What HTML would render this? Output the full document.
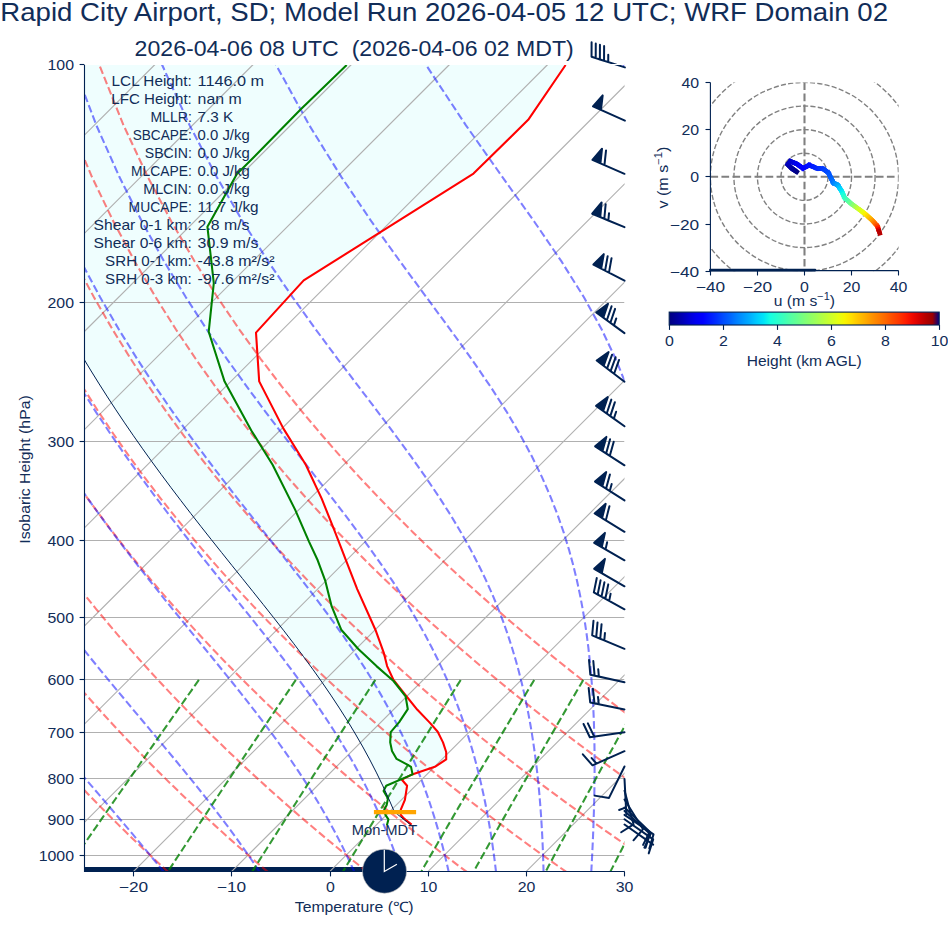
<!DOCTYPE html>
<html><head><meta charset="utf-8"><style>html,body{margin:0;padding:0;background:#fff;overflow:hidden;width:948px;height:936px;}svg{display:block;}</style></head><body>
<svg width="948" height="936" viewBox="0 0 948 936" font-family="&quot;Liberation Sans&quot;, sans-serif">
<rect width="948" height="936" fill="#ffffff"/>
<defs><clipPath id="ax"><rect x="84.5" y="64.5" width="540.0" height="807.6"/></clipPath></defs>
<g clip-path="url(#ax)">
<polygon points="54.50,59.50 54.50,319.14 61.09,319.14 68.27,332.10 75.68,345.07 83.29,358.03 91.13,371.00 99.18,383.96 107.44,396.93 115.92,409.89 124.61,422.86 133.50,435.82 142.61,448.79 151.91,461.75 161.40,474.71 171.07,487.68 180.91,500.64 190.90,513.61 201.02,526.57 211.26,539.54 221.58,552.50 231.96,565.47 242.37,578.43 252.77,591.40 263.12,604.36 273.38,617.33 283.51,630.29 293.47,643.26 303.22,656.22 312.72,669.18 321.93,682.15 330.83,695.11 339.39,708.08 347.60,721.04 355.42,734.01 362.86,746.97 369.91,759.94 376.57,772.90 382.85,785.87 388.75,798.83 394.34,811.80 397.66,814.48 400.96,817.14 404.25,819.78 407.53,822.40 410.80,825.00 411.60,824.60 404.10,818.60 400.80,814.90 400.80,809.60 404.90,799.90 407.10,785.70 401.90,779.70 412.10,774.40 435.60,766.40 446.20,759.40 446.20,752.00 443.00,742.40 437.70,731.70 430.20,723.10 417.40,709.80 401.40,690.00 393.50,680.00 387.10,666.10 383.90,653.20 375.40,629.70 357.20,589.10 345.50,559.20 334.60,530.90 321.80,498.90 305.80,464.70 283.30,428.40 259.20,381.40 256.00,332.60 303.70,280.40 473.50,173.60 528.20,119.80 565.60,65.00 565.60,59.50" fill="#effefe"/>
<rect x="84.0" y="867" width="300.0" height="4.8" fill="#002151"/>
<line x1="84.5" y1="64.50" x2="624.5" y2="64.50" stroke="#b0b0b0" stroke-width="1.0"/>
<line x1="84.5" y1="302.50" x2="624.5" y2="302.50" stroke="#b0b0b0" stroke-width="1.0"/>
<line x1="84.5" y1="441.50" x2="624.5" y2="441.50" stroke="#b0b0b0" stroke-width="1.0"/>
<line x1="84.5" y1="540.50" x2="624.5" y2="540.50" stroke="#b0b0b0" stroke-width="1.0"/>
<line x1="84.5" y1="617.50" x2="624.5" y2="617.50" stroke="#b0b0b0" stroke-width="1.0"/>
<line x1="84.5" y1="679.50" x2="624.5" y2="679.50" stroke="#b0b0b0" stroke-width="1.0"/>
<line x1="84.5" y1="732.50" x2="624.5" y2="732.50" stroke="#b0b0b0" stroke-width="1.0"/>
<line x1="84.5" y1="778.50" x2="624.5" y2="778.50" stroke="#b0b0b0" stroke-width="1.0"/>
<line x1="84.5" y1="819.50" x2="624.5" y2="819.50" stroke="#b0b0b0" stroke-width="1.0"/>
<line x1="84.5" y1="855.50" x2="624.5" y2="855.50" stroke="#b0b0b0" stroke-width="1.0"/>
<line x1="-1143.50" y1="872.10" x2="-335.90" y2="64.50" stroke="#b0b0b0" stroke-width="1.11"/>
<line x1="-1045.32" y1="872.10" x2="-237.72" y2="64.50" stroke="#b0b0b0" stroke-width="1.11"/>
<line x1="-947.14" y1="872.10" x2="-139.54" y2="64.50" stroke="#b0b0b0" stroke-width="1.11"/>
<line x1="-848.96" y1="872.10" x2="-41.36" y2="64.50" stroke="#b0b0b0" stroke-width="1.11"/>
<line x1="-750.78" y1="872.10" x2="56.82" y2="64.50" stroke="#b0b0b0" stroke-width="1.11"/>
<line x1="-652.60" y1="872.10" x2="155.00" y2="64.50" stroke="#b0b0b0" stroke-width="1.11"/>
<line x1="-554.42" y1="872.10" x2="253.18" y2="64.50" stroke="#b0b0b0" stroke-width="1.11"/>
<line x1="-456.24" y1="872.10" x2="351.36" y2="64.50" stroke="#b0b0b0" stroke-width="1.11"/>
<line x1="-358.06" y1="872.10" x2="449.54" y2="64.50" stroke="#b0b0b0" stroke-width="1.11"/>
<line x1="-259.88" y1="872.10" x2="547.72" y2="64.50" stroke="#b0b0b0" stroke-width="1.11"/>
<line x1="-161.70" y1="872.10" x2="645.90" y2="64.50" stroke="#b0b0b0" stroke-width="1.11"/>
<line x1="-63.52" y1="872.10" x2="744.08" y2="64.50" stroke="#b0b0b0" stroke-width="1.11"/>
<line x1="34.66" y1="872.10" x2="842.26" y2="64.50" stroke="#b0b0b0" stroke-width="1.11"/>
<line x1="132.84" y1="872.10" x2="940.44" y2="64.50" stroke="#b0b0b0" stroke-width="1.11"/>
<line x1="231.02" y1="872.10" x2="1038.62" y2="64.50" stroke="#b0b0b0" stroke-width="1.11"/>
<line x1="329.20" y1="872.10" x2="1136.80" y2="64.50" stroke="#b0b0b0" stroke-width="1.11"/>
<line x1="427.38" y1="872.10" x2="1234.98" y2="64.50" stroke="#b0b0b0" stroke-width="1.11"/>
<line x1="525.56" y1="872.10" x2="1333.16" y2="64.50" stroke="#b0b0b0" stroke-width="1.11"/>
<line x1="623.74" y1="872.10" x2="1431.34" y2="64.50" stroke="#b0b0b0" stroke-width="1.11"/>
<polyline points="-30.65,872.16 -36.57,865.76 -42.54,859.23 -48.56,852.58 -54.62,845.80 -60.73,838.89 -66.89,831.83 -73.10,824.62 -79.36,817.26 -85.67,809.73 -92.04,802.04 -98.45,794.17 -104.92,786.12 -111.45,777.88 -118.03,769.43 -124.67,760.77 -131.36,751.88 -138.11,742.76 -144.93,733.39 -151.80,723.76 -158.73,713.84 -165.73,703.64 -172.79,693.12 -179.91,682.27 -187.09,671.06 -194.33,659.48 -201.64,647.49 -209.01,635.07 -216.45,622.19 -223.94,608.80 -231.49,594.87 -239.10,580.35 -246.76,565.18 -254.46,549.32 -262.21,532.69 -269.99,515.21 -277.80,496.80 -285.61,477.34 -293.42,456.72 -301.19,434.77 -308.90,411.33 -316.51,386.17 -323.96,359.02 -331.17,329.54 -338.05,297.29 -344.43,261.69 -350.11,221.97 -354.76,177.06 -357.86,125.37 -358.57,64.50" fill="none" stroke="#ff0000" stroke-opacity="0.5" stroke-width="2.08" stroke-dasharray="7.7 3.33"/>
<polyline points="68.91,872.16 62.46,865.76 55.95,859.23 49.39,852.58 42.78,845.80 36.11,838.89 29.38,831.83 22.59,824.62 15.75,817.26 8.85,809.73 1.88,802.04 -5.15,794.17 -12.24,786.12 -19.40,777.88 -26.63,769.43 -33.92,760.77 -41.28,751.88 -48.72,742.76 -56.22,733.39 -63.80,723.76 -71.46,713.84 -79.19,703.64 -87.00,693.12 -94.89,682.27 -102.87,671.06 -110.92,659.48 -119.06,647.49 -127.27,635.07 -135.58,622.19 -143.97,608.80 -152.44,594.87 -161.00,580.35 -169.63,565.18 -178.35,549.32 -187.15,532.69 -196.01,515.21 -204.94,496.80 -213.93,477.34 -222.95,456.72 -232.00,434.77 -241.05,411.33 -250.06,386.17 -258.99,359.02 -267.78,329.54 -276.33,297.29 -284.52,261.69 -292.14,221.97 -298.92,177.06 -304.37,125.37 -307.72,64.50" fill="none" stroke="#ff0000" stroke-opacity="0.5" stroke-width="2.08" stroke-dasharray="7.7 3.33"/>
<polyline points="168.47,872.16 161.49,865.76 154.45,859.23 147.34,852.58 140.18,845.80 132.95,838.89 125.65,831.83 118.29,824.62 110.86,817.26 103.37,809.73 95.80,802.04 88.16,794.17 80.44,786.12 72.65,777.88 64.78,769.43 56.83,760.77 48.80,751.88 40.68,742.76 32.48,733.39 24.19,723.76 15.81,713.84 7.34,703.64 -1.22,693.12 -9.88,682.27 -18.64,671.06 -27.50,659.48 -36.47,647.49 -45.54,635.07 -54.71,622.19 -63.99,608.80 -73.39,594.87 -82.89,580.35 -92.51,565.18 -102.24,549.32 -112.08,532.69 -122.03,515.21 -132.08,496.80 -142.24,477.34 -152.48,456.72 -162.80,434.77 -173.19,411.33 -183.61,386.17 -194.02,359.02 -204.38,329.54 -214.61,297.29 -224.60,261.69 -234.17,221.97 -243.07,177.06 -250.88,125.37 -256.87,64.50" fill="none" stroke="#ff0000" stroke-opacity="0.5" stroke-width="2.08" stroke-dasharray="7.7 3.33"/>
<polyline points="268.03,872.16 260.52,865.76 252.94,859.23 245.29,852.58 237.58,845.80 229.79,838.89 221.93,831.83 213.99,824.62 205.98,817.26 197.89,809.73 189.72,802.04 181.46,794.17 173.12,786.12 164.70,777.88 156.18,769.43 147.58,760.77 138.88,751.88 130.08,742.76 121.19,733.39 112.19,723.76 103.09,713.84 93.88,703.64 84.56,693.12 75.13,682.27 65.58,671.06 55.91,659.48 46.12,647.49 36.20,635.07 26.16,622.19 15.98,608.80 5.66,594.87 -4.79,580.35 -15.39,565.18 -26.13,549.32 -37.01,532.69 -48.05,515.21 -59.22,496.80 -70.55,477.34 -82.01,456.72 -93.61,434.77 -105.33,411.33 -117.15,386.17 -129.05,359.02 -140.99,329.54 -152.90,297.29 -164.68,261.69 -176.20,221.97 -187.23,177.06 -197.38,125.37 -206.01,64.50" fill="none" stroke="#ff0000" stroke-opacity="0.5" stroke-width="2.08" stroke-dasharray="7.7 3.33"/>
<polyline points="367.59,872.16 359.55,865.76 351.43,859.23 343.24,852.58 334.97,845.80 326.63,838.89 318.20,831.83 309.69,824.62 301.09,817.26 292.41,809.73 283.63,802.04 274.77,794.17 265.81,786.12 256.75,777.88 247.59,769.43 238.32,760.77 228.96,751.88 219.48,742.76 209.89,733.39 200.19,723.76 190.36,713.84 180.42,703.64 170.34,693.12 160.14,682.27 149.80,671.06 139.33,659.48 128.71,647.49 117.94,635.07 107.02,622.19 95.95,608.80 84.71,594.87 73.31,580.35 61.73,565.18 49.98,549.32 38.05,532.69 25.94,515.21 13.63,496.80 1.14,477.34 -11.54,456.72 -24.42,434.77 -37.47,411.33 -50.70,386.17 -64.08,359.02 -77.59,329.54 -91.18,297.29 -104.77,261.69 -118.24,221.97 -131.39,177.06 -143.89,125.37 -155.16,64.50" fill="none" stroke="#ff0000" stroke-opacity="0.5" stroke-width="2.08" stroke-dasharray="7.7 3.33"/>
<polyline points="467.15,872.16 458.58,865.76 449.93,859.23 441.19,852.58 432.37,845.80 423.47,838.89 414.47,831.83 405.39,824.62 396.21,817.26 386.93,809.73 377.55,802.04 368.07,794.17 358.49,786.12 348.79,777.88 338.99,769.43 329.07,760.77 319.04,751.88 308.88,742.76 298.60,733.39 288.18,723.76 277.64,713.84 266.95,703.64 256.13,693.12 245.15,682.27 234.03,671.06 222.74,659.48 211.30,647.49 199.68,635.07 187.89,622.19 175.92,608.80 163.76,594.87 151.41,580.35 138.86,565.18 126.10,549.32 113.12,532.69 99.92,515.21 86.49,496.80 72.83,477.34 58.93,456.72 44.78,434.77 30.39,411.33 15.75,386.17 0.88,359.02 -14.20,329.54 -29.46,297.29 -44.85,261.69 -60.27,221.97 -75.54,177.06 -90.40,125.37 -104.31,64.50" fill="none" stroke="#ff0000" stroke-opacity="0.5" stroke-width="2.08" stroke-dasharray="7.7 3.33"/>
<polyline points="566.70,872.16 557.61,865.76 548.42,859.23 539.14,852.58 529.77,845.80 520.31,838.89 510.75,831.83 501.09,824.62 491.32,817.26 481.45,809.73 471.47,802.04 461.38,794.17 451.17,786.12 440.84,777.88 430.40,769.43 419.82,760.77 409.12,751.88 398.28,742.76 387.30,733.39 376.18,723.76 364.91,713.84 353.49,703.64 341.91,693.12 330.16,682.27 318.25,671.06 306.16,659.48 293.88,647.49 281.42,635.07 268.76,622.19 255.89,608.80 242.81,594.87 229.51,580.35 215.98,565.18 202.21,549.32 188.18,532.69 173.90,515.21 159.35,496.80 144.52,477.34 129.39,456.72 113.97,434.77 98.24,411.33 82.20,386.17 65.85,359.02 49.20,329.54 32.25,297.29 15.07,261.69 -2.30,221.97 -19.70,177.06 -36.91,125.37 -53.46,64.50" fill="none" stroke="#ff0000" stroke-opacity="0.5" stroke-width="2.08" stroke-dasharray="7.7 3.33"/>
<polyline points="666.26,872.16 656.64,865.76 646.91,859.23 637.09,852.58 627.17,845.80 617.15,838.89 607.02,831.83 596.78,824.62 586.43,817.26 575.97,809.73 565.39,802.04 554.68,794.17 543.85,786.12 532.89,777.88 521.80,769.43 510.57,760.77 499.20,751.88 487.68,742.76 476.00,733.39 464.18,723.76 452.18,713.84 440.03,703.64 427.69,693.12 415.18,682.27 402.47,671.06 389.57,659.48 376.47,647.49 363.16,635.07 349.63,622.19 335.86,608.80 321.86,594.87 307.61,580.35 293.10,565.18 278.32,549.32 263.25,532.69 247.88,515.21 232.21,496.80 216.21,477.34 199.86,456.72 183.17,434.77 166.10,411.33 148.66,386.17 130.82,359.02 112.59,329.54 93.97,297.29 74.98,261.69 55.67,221.97 36.14,177.06 16.59,125.37 -2.61,64.50" fill="none" stroke="#ff0000" stroke-opacity="0.5" stroke-width="2.08" stroke-dasharray="7.7 3.33"/>
<polyline points="765.82,872.16 755.66,865.76 745.41,859.23 735.04,852.58 724.57,845.80 713.99,838.89 703.29,831.83 692.48,824.62 681.55,817.26 670.49,809.73 659.30,802.04 647.99,794.17 636.53,786.12 624.94,777.88 613.20,769.43 601.32,760.77 589.28,751.88 577.07,742.76 564.71,733.39 552.17,723.76 539.46,713.84 526.56,703.64 513.47,693.12 500.19,682.27 486.70,671.06 472.99,659.48 459.06,647.49 444.90,635.07 430.49,622.19 415.84,608.80 400.91,594.87 385.71,580.35 370.22,565.18 354.43,549.32 338.32,532.69 321.87,515.21 305.07,496.80 287.89,477.34 270.33,456.72 252.36,434.77 233.96,411.33 215.11,386.17 195.79,359.02 175.99,329.54 155.69,297.29 134.90,261.69 113.64,221.97 91.98,177.06 70.08,125.37 48.25,64.50" fill="none" stroke="#ff0000" stroke-opacity="0.5" stroke-width="2.08" stroke-dasharray="7.7 3.33"/>
<polyline points="865.38,872.16 854.69,865.76 843.90,859.23 832.99,852.58 821.97,845.80 810.83,838.89 799.57,831.83 788.18,824.62 776.66,817.26 765.01,809.73 753.22,802.04 741.29,794.17 729.22,786.12 716.99,777.88 704.61,769.43 692.06,760.77 679.35,751.88 666.47,742.76 653.41,733.39 640.17,723.76 626.73,713.84 613.10,703.64 599.26,693.12 585.20,682.27 570.92,671.06 556.41,659.48 541.65,647.49 526.64,635.07 511.36,622.19 495.81,608.80 479.96,594.87 463.82,580.35 447.35,565.18 430.54,549.32 413.38,532.69 395.85,515.21 377.92,496.80 359.58,477.34 340.80,456.72 321.56,434.77 301.82,411.33 281.56,386.17 260.76,359.02 239.38,329.54 217.41,297.29 194.81,261.69 171.61,221.97 147.83,177.06 123.57,125.37 99.10,64.50" fill="none" stroke="#ff0000" stroke-opacity="0.5" stroke-width="2.08" stroke-dasharray="7.7 3.33"/>
<polyline points="-31.53,872.16 -37.09,865.76 -42.72,859.23 -48.43,852.58 -54.21,845.80 -60.07,838.89 -66.00,831.83 -72.00,824.62 -78.07,817.26 -84.21,809.73 -90.42,802.04 -96.71,794.17 -103.06,786.12 -109.49,777.88 -115.98,769.43 -122.55,760.77 -129.18,751.88 -135.89,742.76 -142.66,733.39 -149.50,723.76 -156.41,713.84 -163.39,703.64 -170.44,693.12 -177.55,682.27 -184.74,671.06 -191.99,659.48 -199.31,647.49 -206.69,635.07 -214.14,622.19 -221.65,608.80 -229.22,594.87 -236.85,580.35 -244.54,565.18 -252.27,549.32 -260.05,532.69 -267.86,515.21 -275.70,496.80 -283.55,477.34 -291.39,456.72 -299.20,434.77 -306.95,411.33 -314.60,386.17 -322.09,359.02 -329.35,329.54 -336.27,297.29 -342.70,261.69 -348.44,221.97 -353.15,177.06 -356.32,125.37 -357.10,64.50" fill="none" stroke="#0000ff" stroke-opacity="0.5" stroke-width="2.08" stroke-dasharray="7.7 3.33"/>
<polyline points="66.78,872.16 61.20,865.76 55.51,859.23 49.70,852.58 43.79,845.80 37.77,838.89 31.64,831.83 25.40,824.62 19.05,817.26 12.60,809.73 6.04,802.04 -0.63,794.17 -7.40,786.12 -14.27,777.88 -21.25,769.43 -28.33,760.77 -35.51,751.88 -42.79,742.76 -50.17,733.39 -57.65,723.76 -65.22,713.84 -72.89,703.64 -80.66,693.12 -88.53,682.27 -96.49,671.06 -104.55,659.48 -112.70,647.49 -120.95,635.07 -129.29,622.19 -137.73,608.80 -146.25,594.87 -154.87,580.35 -163.57,565.18 -172.36,549.32 -181.23,532.69 -190.18,515.21 -199.19,496.80 -208.27,477.34 -217.39,456.72 -226.54,434.77 -235.69,411.33 -244.81,386.17 -253.86,359.02 -262.77,329.54 -271.46,297.29 -279.78,261.69 -287.57,221.97 -294.51,177.06 -300.15,125.37 -303.70,64.50" fill="none" stroke="#0000ff" stroke-opacity="0.5" stroke-width="2.08" stroke-dasharray="7.7 3.33"/>
<polyline points="163.96,872.16 158.80,865.76 153.49,859.23 148.02,852.58 142.40,845.80 136.62,838.89 130.69,831.83 124.59,824.62 118.34,817.26 111.93,809.73 105.36,802.04 98.62,794.17 91.73,786.12 84.68,777.88 77.48,769.43 70.11,760.77 62.60,751.88 54.93,742.76 47.10,733.39 39.13,723.76 31.01,713.84 22.75,703.64 14.34,693.12 5.79,682.27 -2.91,671.06 -11.74,659.48 -20.71,647.49 -29.81,635.07 -39.05,622.19 -48.43,608.80 -57.94,594.87 -67.57,580.35 -77.34,565.18 -87.24,549.32 -97.26,532.69 -107.41,515.21 -117.67,496.80 -128.05,477.34 -138.53,456.72 -149.10,434.77 -159.75,411.33 -170.45,386.17 -181.16,359.02 -191.83,329.54 -202.39,297.29 -212.73,261.69 -222.69,221.97 -232.01,177.06 -240.28,125.37 -246.79,64.50" fill="none" stroke="#0000ff" stroke-opacity="0.5" stroke-width="2.08" stroke-dasharray="7.7 3.33"/>
<polyline points="259.76,872.16 255.54,865.76 251.14,859.23 246.57,852.58 241.82,845.80 236.88,838.89 231.75,831.83 226.41,824.62 220.87,817.26 215.12,809.73 209.15,802.04 202.95,794.17 196.53,786.12 189.88,777.88 183.00,769.43 175.88,760.77 168.52,751.88 160.93,742.76 153.10,733.39 145.03,723.76 136.72,713.84 128.18,703.64 119.41,693.12 110.41,682.27 101.19,671.06 91.74,659.48 82.07,647.49 72.20,635.07 62.11,622.19 51.81,608.80 41.32,594.87 30.62,580.35 19.73,565.18 8.65,549.32 -2.63,532.69 -14.09,515.21 -25.74,496.80 -37.56,477.34 -49.57,456.72 -61.73,434.77 -74.06,411.33 -86.52,386.17 -99.11,359.02 -111.76,329.54 -124.44,297.29 -137.06,261.69 -149.48,221.97 -161.49,177.06 -172.72,125.37 -182.57,64.50" fill="none" stroke="#0000ff" stroke-opacity="0.5" stroke-width="2.08" stroke-dasharray="7.7 3.33"/>
<polyline points="354.44,872.16 351.55,865.76 348.52,859.23 345.34,852.58 342.00,845.80 338.48,838.89 334.77,831.83 330.88,824.62 326.78,817.26 322.46,809.73 317.91,802.04 313.12,794.17 308.08,786.12 302.76,777.88 297.17,769.43 291.28,760.77 285.08,751.88 278.57,742.76 271.72,733.39 264.52,723.76 256.98,713.84 249.07,703.64 240.79,693.12 232.14,682.27 223.11,671.06 213.70,659.48 203.92,647.49 193.76,635.07 183.23,622.19 172.34,608.80 161.09,594.87 149.49,580.35 137.55,565.18 125.28,549.32 112.70,532.69 99.80,515.21 86.59,496.80 73.09,477.34 59.30,456.72 45.23,434.77 30.88,411.33 16.27,386.17 1.41,359.02 -13.67,329.54 -28.94,297.29 -44.34,261.69 -59.77,221.97 -75.07,177.06 -89.94,125.37 -103.88,64.50" fill="none" stroke="#0000ff" stroke-opacity="0.5" stroke-width="2.08" stroke-dasharray="7.7 3.33"/>
<polyline points="401.59,872.16 399.43,865.76 397.16,859.23 394.76,852.58 392.23,845.80 389.55,838.89 386.71,831.83 383.71,824.62 380.53,817.26 377.15,809.73 373.58,802.04 369.78,794.17 365.75,786.12 361.47,777.88 356.92,769.43 352.08,760.77 346.95,751.88 341.48,742.76 335.67,733.39 329.50,723.76 322.94,713.84 315.98,703.64 308.60,693.12 300.77,682.27 292.49,671.06 283.73,659.48 274.49,647.49 264.75,635.07 254.53,622.19 243.80,608.80 232.58,594.87 220.87,580.35 208.68,565.18 196.02,549.32 182.91,532.69 169.37,515.21 155.39,496.80 141.01,477.34 126.23,456.72 111.06,434.77 95.53,411.33 79.64,386.17 63.40,359.02 46.84,329.54 29.97,297.29 12.86,261.69 -4.43,221.97 -21.75,177.06 -38.87,125.37 -55.32,64.50" fill="none" stroke="#0000ff" stroke-opacity="0.5" stroke-width="2.08" stroke-dasharray="7.7 3.33"/>
<polyline points="448.77,872.16 447.33,865.76 445.81,859.23 444.19,852.58 442.46,845.80 440.63,838.89 438.67,831.83 436.59,824.62 434.37,817.26 432.00,809.73 429.46,802.04 426.75,794.17 423.84,786.12 420.73,777.88 417.40,769.43 413.82,760.77 409.98,751.88 405.85,742.76 401.41,733.39 396.63,723.76 391.49,713.84 385.96,703.64 380.00,693.12 373.58,682.27 366.68,671.06 359.25,659.48 351.26,647.49 342.69,635.07 333.51,622.19 323.68,608.80 313.20,594.87 302.04,580.35 290.21,565.18 277.69,549.32 264.50,532.69 250.65,515.21 236.16,496.80 221.06,477.34 205.36,456.72 189.11,434.77 172.31,411.33 154.99,386.17 137.18,359.02 118.90,329.54 100.17,297.29 81.03,261.69 61.53,221.97 41.79,177.06 22.00,125.37 2.54,64.50" fill="none" stroke="#0000ff" stroke-opacity="0.5" stroke-width="2.08" stroke-dasharray="7.7 3.33"/>
<polyline points="496.06,872.16 495.30,865.76 494.48,859.23 493.59,852.58 492.63,845.80 491.60,838.89 490.49,831.83 489.28,824.62 487.99,817.26 486.58,809.73 485.07,802.04 483.43,794.17 481.65,786.12 479.72,777.88 477.63,769.43 475.37,760.77 472.90,751.88 470.22,742.76 467.30,733.39 464.11,723.76 460.64,713.84 456.85,703.64 452.70,693.12 448.16,682.27 443.18,671.06 437.73,659.48 431.76,647.49 425.20,635.07 418.01,622.19 410.13,608.80 401.50,594.87 392.06,580.35 381.75,565.18 370.54,549.32 358.38,532.69 345.24,515.21 331.13,496.80 316.03,477.34 299.98,456.72 283.00,434.77 265.14,411.33 246.45,386.17 226.97,359.02 206.76,329.54 185.86,297.29 164.30,261.69 142.14,221.97 119.47,177.06 96.41,125.37 73.28,64.50" fill="none" stroke="#0000ff" stroke-opacity="0.5" stroke-width="2.08" stroke-dasharray="7.7 3.33"/>
<polyline points="543.55,872.16 543.39,865.76 543.19,859.23 542.96,852.58 542.69,845.80 542.38,838.89 542.02,831.83 541.61,824.62 541.15,817.26 540.62,809.73 540.03,802.04 539.37,794.17 538.62,786.12 537.78,777.88 536.85,769.43 535.80,760.77 534.63,751.88 533.32,742.76 531.87,733.39 530.24,723.76 528.42,713.84 526.38,703.64 524.11,693.12 521.57,682.27 518.72,671.06 515.53,659.48 511.94,647.49 507.92,635.07 503.39,622.19 498.29,608.80 492.54,594.87 486.05,580.35 478.73,565.18 470.47,549.32 461.16,532.69 450.68,515.21 438.93,496.80 425.79,477.34 411.18,456.72 395.07,434.77 377.43,411.33 358.29,386.17 337.72,359.02 315.81,329.54 292.66,297.29 268.37,261.69 243.04,221.97 216.77,177.06 189.66,125.37 161.94,64.50" fill="none" stroke="#0000ff" stroke-opacity="0.5" stroke-width="2.08" stroke-dasharray="7.7 3.33"/>
<polyline points="591.26,872.16 591.61,865.76 591.96,859.23 592.29,852.58 592.61,845.80 592.92,838.89 593.21,831.83 593.48,824.62 593.73,817.26 593.96,809.73 594.16,802.04 594.32,794.17 594.46,786.12 594.55,777.88 594.60,769.43 594.60,760.77 594.54,751.88 594.42,742.76 594.22,733.39 593.94,723.76 593.56,713.84 593.07,703.64 592.46,693.12 591.70,682.27 590.78,671.06 589.67,659.48 588.34,647.49 586.75,635.07 584.87,622.19 582.64,608.80 580.00,594.87 576.89,580.35 573.22,565.18 568.89,549.32 563.77,532.69 557.71,515.21 550.55,496.80 542.08,477.34 532.06,456.72 520.25,434.77 506.38,411.33 490.20,386.17 471.53,359.02 450.28,329.54 426.46,297.29 400.23,261.69 371.80,221.97 341.44,177.06 309.37,125.37 275.84,64.50" fill="none" stroke="#0000ff" stroke-opacity="0.5" stroke-width="2.08" stroke-dasharray="7.7 3.33"/>
<polyline points="639.19,872.16 639.98,865.76 640.78,859.23 641.58,852.58 642.39,845.80 643.21,838.89 644.03,831.83 644.86,824.62 645.70,817.26 646.54,809.73 647.39,802.04 648.23,794.17 649.08,786.12 649.93,777.88 650.78,769.43 651.62,760.77 652.45,751.88 653.28,742.76 654.09,733.39 654.88,723.76 655.66,713.84 656.40,703.64 657.11,693.12 657.78,682.27 658.39,671.06 658.95,659.48 659.42,647.49 659.81,635.07 660.08,622.19 660.21,608.80 660.17,594.87 659.93,580.35 659.44,565.18 658.65,549.32 657.47,532.69 655.83,515.21 653.60,496.80 650.64,477.34 646.76,456.72 641.70,434.77 635.14,411.33 626.66,386.17 615.73,359.02 601.72,329.54 583.92,297.29 561.66,261.69 534.51,221.97 502.46,177.06 465.96,125.37 425.73,64.50" fill="none" stroke="#0000ff" stroke-opacity="0.5" stroke-width="2.08" stroke-dasharray="7.7 3.33"/>
<polyline points="687.35,872.16 688.49,865.76 689.65,859.23 690.83,852.58 692.03,845.80 693.26,838.89 694.51,831.83 695.79,824.62 697.09,817.26 698.42,809.73 699.77,802.04 701.15,794.17 702.56,786.12 703.99,777.88 705.46,769.43 706.95,760.77 708.47,751.88 710.03,742.76 711.61,733.39 713.22,723.76 714.86,713.84 716.54,703.64 718.24,693.12 719.97,682.27 721.73,671.06 723.51,659.48 725.31,647.49 727.14,635.07 728.98,622.19 730.82,608.80 732.67,594.87 734.51,580.35 736.32,565.18 738.09,549.32 739.80,532.69 741.40,515.21 742.86,496.80 744.13,477.34 745.11,456.72 745.72,434.77 745.78,411.33 745.10,386.17 743.35,359.02 740.10,329.54 734.66,297.29 726.03,261.69 712.72,221.97 692.65,177.06 663.42,125.37 623.33,64.50" fill="none" stroke="#0000ff" stroke-opacity="0.5" stroke-width="2.08" stroke-dasharray="7.7 3.33"/>
<polyline points="735.71,872.16 737.12,865.76 738.57,859.23 740.05,852.58 741.56,845.80 743.10,838.89 744.68,831.83 746.30,824.62 747.96,817.26 749.66,809.73 751.40,802.04 753.19,794.17 755.02,786.12 756.90,777.88 758.83,769.43 760.81,760.77 762.85,751.88 764.94,742.76 767.09,733.39 769.30,723.76 771.58,713.84 773.93,703.64 776.35,693.12 778.85,682.27 781.42,671.06 784.07,659.48 786.81,647.49 789.64,635.07 792.57,622.19 795.60,608.80 798.74,594.87 801.98,580.35 805.34,565.18 808.81,549.32 812.40,532.69 816.12,515.21 819.97,496.80 823.94,477.34 828.02,456.72 832.22,434.77 836.49,411.33 840.80,386.17 845.09,359.02 849.24,329.54 853.07,297.29 856.25,261.69 858.20,221.97 857.89,177.06 853.30,125.37 840.41,64.50" fill="none" stroke="#0000ff" stroke-opacity="0.5" stroke-width="2.08" stroke-dasharray="7.7 3.33"/>
<polyline points="784.25,872.16 785.87,865.76 787.53,859.23 789.23,852.58 790.97,845.80 792.76,838.89 794.59,831.83 796.47,824.62 798.39,817.26 800.37,809.73 802.40,802.04 804.48,794.17 806.63,786.12 808.83,777.88 811.10,769.43 813.44,760.77 815.85,751.88 818.33,742.76 820.89,733.39 823.54,723.76 826.27,713.84 829.10,703.64 832.02,693.12 835.05,682.27 838.19,671.06 841.45,659.48 844.84,647.49 848.36,635.07 852.02,622.19 855.84,608.80 859.83,594.87 864.00,580.35 868.36,565.18 872.94,549.32 877.75,532.69 882.80,515.21 888.13,496.80 893.76,477.34 899.72,456.72 906.04,434.77 912.76,411.33 919.93,386.17 927.59,359.02 935.79,329.54 944.60,297.29 954.05,261.69 964.18,221.97 974.95,177.06 986.17,125.37 997.17,64.50" fill="none" stroke="#0000ff" stroke-opacity="0.5" stroke-width="2.08" stroke-dasharray="7.7 3.33"/>
<polyline points="832.93,872.16 834.71,865.76 836.53,859.23 838.39,852.58 840.30,845.80 842.26,838.89 844.27,831.83 846.33,824.62 848.45,817.26 850.62,809.73 852.86,802.04 855.16,794.17 857.53,786.12 859.97,777.88 862.48,769.43 865.06,760.77 867.73,751.88 870.49,742.76 873.34,733.39 876.28,723.76 879.33,713.84 882.49,703.64 885.76,693.12 889.15,682.27 892.68,671.06 896.35,659.48 900.17,647.49 904.15,635.07 908.30,622.19 912.65,608.80 917.20,594.87 921.97,580.35 926.99,565.18 932.26,549.32 937.83,532.69 943.72,515.21 949.97,496.80 956.61,477.34 963.70,456.72 971.28,434.77 979.43,411.33 988.23,386.17 997.77,359.02 1008.18,329.54 1019.61,297.29 1032.27,261.69 1046.40,221.97 1062.35,177.06 1080.60,125.37 1101.77,64.50" fill="none" stroke="#0000ff" stroke-opacity="0.5" stroke-width="2.08" stroke-dasharray="7.7 3.33"/>
<polyline points="198.87,679.94 195.19,685.16 191.57,690.30 188.00,695.36 184.49,700.35 181.03,705.27 177.62,710.12 174.26,714.90 170.95,719.62 167.68,724.27 164.47,728.86 161.29,733.39 158.16,737.86 155.07,742.27 152.02,746.63 149.01,750.93 146.04,755.18 143.10,759.38 140.21,763.53 137.35,767.62 134.52,771.67 131.73,775.67 128.97,779.63 126.25,783.54 123.55,787.41 120.89,791.23 118.26,795.01 115.66,798.75 113.09,802.45 110.55,806.11 108.03,809.73 105.54,813.32 103.08,816.87 100.65,820.38 98.24,823.85 95.86,827.29 93.50,830.70 91.16,834.07 88.85,837.41 86.56,840.72 84.30,844.00 82.06,847.24 79.83,850.46 77.64,853.64 75.46,856.80 73.30,859.93 71.16,863.03 69.05,866.10 66.95,869.14 64.87,872.16" fill="none" stroke="#008000" stroke-opacity="0.8" stroke-width="2.08" stroke-dasharray="7.7 3.33"/>
<polyline points="295.83,679.94 292.30,685.16 288.82,690.30 285.40,695.36 282.03,700.35 278.71,705.27 275.44,710.12 272.21,714.90 269.04,719.62 265.91,724.27 262.82,728.86 259.77,733.39 256.77,737.86 253.81,742.27 250.89,746.63 248.00,750.93 245.15,755.18 242.34,759.38 239.57,763.53 236.83,767.62 234.12,771.67 231.45,775.67 228.81,779.63 226.20,783.54 223.62,787.41 221.07,791.23 218.56,795.01 216.07,798.75 213.60,802.45 211.17,806.11 208.76,809.73 206.38,813.32 204.03,816.87 201.70,820.38 199.40,823.85 197.12,827.29 194.86,830.70 192.63,834.07 190.42,837.41 188.23,840.72 186.06,844.00 183.92,847.24 181.80,850.46 179.70,853.64 177.61,856.80 175.55,859.93 173.51,863.03 171.49,866.10 169.48,869.14 167.50,872.16" fill="none" stroke="#008000" stroke-opacity="0.8" stroke-width="2.08" stroke-dasharray="7.7 3.33"/>
<polyline points="375.33,679.94 371.93,685.16 368.57,690.30 365.27,695.36 362.02,700.35 358.83,705.27 355.67,710.12 352.57,714.90 349.51,719.62 346.49,724.27 343.52,728.86 340.58,733.39 337.69,737.86 334.84,742.27 332.02,746.63 329.25,750.93 326.51,755.18 323.80,759.38 321.13,763.53 318.49,767.62 315.89,771.67 313.32,775.67 310.78,779.63 308.27,783.54 305.78,787.41 303.33,791.23 300.91,795.01 298.52,798.75 296.15,802.45 293.81,806.11 291.50,809.73 289.21,813.32 286.95,816.87 284.71,820.38 282.49,823.85 280.30,827.29 278.13,830.70 275.99,834.07 273.86,837.41 271.76,840.72 269.68,844.00 267.62,847.24 265.58,850.46 263.57,853.64 261.57,856.80 259.59,859.93 257.63,863.03 255.68,866.10 253.76,869.14 251.85,872.16" fill="none" stroke="#008000" stroke-opacity="0.8" stroke-width="2.08" stroke-dasharray="7.7 3.33"/>
<polyline points="460.69,679.94 457.43,685.16 454.21,690.30 451.05,695.36 447.94,700.35 444.87,705.27 441.85,710.12 438.88,714.90 435.95,719.62 433.06,724.27 430.21,728.86 427.40,733.39 424.63,737.86 421.90,742.27 419.21,746.63 416.55,750.93 413.93,755.18 411.34,759.38 408.78,763.53 406.26,767.62 403.77,771.67 401.31,775.67 398.88,779.63 396.48,783.54 394.11,787.41 391.77,791.23 389.46,795.01 387.17,798.75 384.91,802.45 382.67,806.11 380.46,809.73 378.27,813.32 376.11,816.87 373.98,820.38 371.86,823.85 369.77,827.29 367.70,830.70 365.65,834.07 363.63,837.41 361.62,840.72 359.63,844.00 357.67,847.24 355.73,850.46 353.80,853.64 351.89,856.80 350.00,859.93 348.13,863.03 346.28,866.10 344.45,869.14 342.63,872.16" fill="none" stroke="#008000" stroke-opacity="0.8" stroke-width="2.08" stroke-dasharray="7.7 3.33"/>
<polyline points="534.20,679.94 531.06,685.16 527.97,690.30 524.93,695.36 521.93,700.35 518.99,705.27 516.09,710.12 513.23,714.90 510.41,719.62 507.64,724.27 504.90,728.86 502.20,733.39 499.55,737.86 496.92,742.27 494.34,746.63 491.79,750.93 489.27,755.18 486.79,759.38 484.33,763.53 481.91,767.62 479.53,771.67 477.17,775.67 474.84,779.63 472.54,783.54 470.26,787.41 468.02,791.23 465.80,795.01 463.61,798.75 461.44,802.45 459.30,806.11 457.18,809.73 455.08,813.32 453.01,816.87 450.97,820.38 448.94,823.85 446.94,827.29 444.96,830.70 443.00,834.07 441.06,837.41 439.14,840.72 437.24,844.00 435.36,847.24 433.49,850.46 431.65,853.64 429.83,856.80 428.02,859.93 426.23,863.03 424.46,866.10 422.71,869.14 420.97,872.16" fill="none" stroke="#008000" stroke-opacity="0.8" stroke-width="2.08" stroke-dasharray="7.7 3.33"/>
<polyline points="583.27,679.94 580.22,685.16 577.21,690.30 574.26,695.36 571.35,700.35 568.48,705.27 565.66,710.12 562.88,714.90 560.15,719.62 557.45,724.27 554.79,728.86 552.17,733.39 549.59,737.86 547.04,742.27 544.53,746.63 542.05,750.93 539.61,755.18 537.19,759.38 534.81,763.53 532.46,767.62 530.14,771.67 527.85,775.67 525.59,779.63 523.36,783.54 521.15,787.41 518.97,791.23 516.82,795.01 514.69,798.75 512.59,802.45 510.51,806.11 508.46,809.73 506.43,813.32 504.42,816.87 502.43,820.38 500.47,823.85 498.53,827.29 496.60,830.70 494.70,834.07 492.82,837.41 490.96,840.72 489.12,844.00 487.30,847.24 485.50,850.46 483.71,853.64 481.94,856.80 480.19,859.93 478.46,863.03 476.74,866.10 475.04,869.14 473.36,872.16" fill="none" stroke="#008000" stroke-opacity="0.8" stroke-width="2.08" stroke-dasharray="7.7 3.33"/>
<polyline points="650.61,679.94 647.68,685.16 644.79,690.30 641.95,695.36 639.16,700.35 636.41,705.27 633.70,710.12 631.03,714.90 628.41,719.62 625.82,724.27 623.27,728.86 620.76,733.39 618.28,737.86 615.84,742.27 613.43,746.63 611.06,750.93 608.71,755.18 606.40,759.38 604.12,763.53 601.87,767.62 599.65,771.67 597.45,775.67 595.29,779.63 593.15,783.54 591.04,787.41 588.95,791.23 586.89,795.01 584.86,798.75 582.85,802.45 580.86,806.11 578.89,809.73 576.95,813.32 575.03,816.87 573.13,820.38 571.25,823.85 569.40,827.29 567.56,830.70 565.74,834.07 563.95,837.41 562.17,840.72 560.41,844.00 558.67,847.24 556.95,850.46 555.24,853.64 553.55,856.80 551.88,859.93 550.23,863.03 548.59,866.10 546.97,869.14 545.36,872.16" fill="none" stroke="#008000" stroke-opacity="0.8" stroke-width="2.08" stroke-dasharray="7.7 3.33"/>
<polyline points="711.07,679.94 708.24,685.16 705.47,690.30 702.74,695.36 700.05,700.35 697.41,705.27 694.80,710.12 692.24,714.90 689.72,719.62 687.23,724.27 684.78,728.86 682.37,733.39 679.99,737.86 677.64,742.27 675.33,746.63 673.05,750.93 670.80,755.18 668.58,759.38 666.39,763.53 664.23,767.62 662.10,771.67 660.00,775.67 657.92,779.63 655.87,783.54 653.84,787.41 651.84,791.23 649.87,795.01 647.92,798.75 645.99,802.45 644.09,806.11 642.20,809.73 640.34,813.32 638.50,816.87 636.68,820.38 634.89,823.85 633.11,827.29 631.35,830.70 629.61,834.07 627.89,837.41 626.19,840.72 624.51,844.00 622.84,847.24 621.19,850.46 619.56,853.64 617.95,856.80 616.35,859.93 614.77,863.03 613.20,866.10 611.65,869.14 610.12,872.16" fill="none" stroke="#008000" stroke-opacity="0.8" stroke-width="2.08" stroke-dasharray="7.7 3.33"/>
<polyline points="755.19,679.94 752.45,685.16 749.75,690.30 747.10,695.36 744.49,700.35 741.93,705.27 739.40,710.12 736.92,714.90 734.47,719.62 732.06,724.27 729.68,728.86 727.34,733.39 725.04,737.86 722.76,742.27 720.52,746.63 718.31,750.93 716.13,755.18 713.98,759.38 711.86,763.53 709.77,767.62 707.71,771.67 705.67,775.67 703.66,779.63 701.67,783.54 699.71,787.41 697.78,791.23 695.87,795.01 693.98,798.75 692.11,802.45 690.27,806.11 688.45,809.73 686.65,813.32 684.87,816.87 683.11,820.38 681.37,823.85 679.65,827.29 677.96,830.70 676.27,834.07 674.61,837.41 672.97,840.72 671.34,844.00 669.73,847.24 668.14,850.46 666.56,853.64 665.01,856.80 663.46,859.93 661.93,863.03 660.42,866.10 658.93,869.14 657.44,872.16" fill="none" stroke="#008000" stroke-opacity="0.8" stroke-width="2.08" stroke-dasharray="7.7 3.33"/>
<polyline points="565.60,65.00 528.20,119.80 473.50,173.60 303.70,280.40 256.00,332.60 259.20,381.40 283.30,428.40 305.80,464.70 321.80,498.90 334.60,530.90 345.50,559.20 357.20,589.10 375.40,629.70 383.90,653.20 387.10,666.10 393.50,680.00 401.40,690.00 417.40,709.80 430.20,723.10 437.70,731.70 443.00,742.40 446.20,752.00 446.20,759.40 435.60,766.40 412.10,774.40 401.90,779.70 407.10,785.70 404.90,799.90 400.80,809.60 400.80,814.90 404.10,818.60 411.60,824.60" fill="none" stroke="#ff0000" stroke-width="2.08" stroke-linejoin="round"/>
<polyline points="346.70,65.00 300.30,109.80 251.00,160.00 236.90,174.10 207.40,226.70 213.80,283.10 208.70,331.80 224.60,381.60 251.30,430.50 272.60,464.70 295.10,509.60 309.00,541.60 317.70,560.30 325.20,580.60 331.60,606.20 341.20,629.70 358.30,649.00 376.50,666.10 393.50,681.00 405.60,696.40 407.80,709.20 399.20,722.10 390.70,732.20 390.20,742.40 392.00,751.00 396.60,758.90 407.80,764.80 411.00,766.90 412.60,774.40 386.20,785.70 383.60,790.90 388.00,798.40 386.60,805.20 384.30,809.60 385.40,814.90 388.40,819.40 386.90,825.30" fill="none" stroke="#008000" stroke-width="2.08" stroke-linejoin="round"/>
<polyline points="410.80,825.00 407.53,822.40 404.25,819.78 400.96,817.14 397.66,814.48 394.34,811.80 388.75,798.83 382.85,785.87 376.57,772.90 369.91,759.94 362.86,746.97 355.42,734.01 347.60,721.04 339.39,708.08 330.83,695.11 321.93,682.15 312.72,669.18 303.22,656.22 293.47,643.26 283.51,630.29 273.38,617.33 263.12,604.36 252.77,591.40 242.37,578.43 231.96,565.47 221.58,552.50 211.26,539.54 201.02,526.57 190.90,513.61 180.91,500.64 171.07,487.68 161.40,474.71 151.91,461.75 142.61,448.79 133.50,435.82 124.61,422.86 115.92,409.89 107.44,396.93 99.18,383.96 91.13,371.00 83.29,358.03 75.68,345.07 68.27,332.10 61.09,319.14 54.11,306.17 47.35,293.21 40.79,280.25 34.45,267.28 28.31,254.32 22.37,241.35 16.64,228.39 11.10,215.42 5.77,202.46 0.63,189.49 -4.32,176.53 -9.07,163.56 -13.64,150.60 -18.01,137.63 -22.20,124.67 -26.21,111.70 -30.03,98.74 -33.68,85.78 -37.14,72.81 -40.43,59.85 -43.55,46.88" fill="none" stroke="#002151" stroke-width="1.0"/>
</g>
<line x1="373.9" y1="812.1" x2="416.1" y2="812.1" stroke="#ffa500" stroke-width="4.1"/>
<line x1="84.5" y1="64.5" x2="84.5" y2="872.1" stroke="#002151" stroke-width="1.11"/>
<line x1="84.5" y1="871.5" x2="624.5" y2="871.5" stroke="#002151" stroke-width="1.11"/>
<line x1="79.6" y1="64.50" x2="84.5" y2="64.50" stroke="#002151" stroke-width="1.11"/>
<text x="74.00" y="69.50" font-size="14.31" text-anchor="end" textLength="26.51" lengthAdjust="spacingAndGlyphs" fill="#112d58" >100</text>
<line x1="79.6" y1="302.50" x2="84.5" y2="302.50" stroke="#002151" stroke-width="1.11"/>
<text x="74.00" y="307.50" font-size="14.31" text-anchor="end" textLength="26.51" lengthAdjust="spacingAndGlyphs" fill="#112d58" >200</text>
<line x1="79.6" y1="441.50" x2="84.5" y2="441.50" stroke="#002151" stroke-width="1.11"/>
<text x="74.00" y="446.50" font-size="14.31" text-anchor="end" textLength="26.51" lengthAdjust="spacingAndGlyphs" fill="#112d58" >300</text>
<line x1="79.6" y1="540.50" x2="84.5" y2="540.50" stroke="#002151" stroke-width="1.11"/>
<text x="74.00" y="545.50" font-size="14.31" text-anchor="end" textLength="26.51" lengthAdjust="spacingAndGlyphs" fill="#112d58" >400</text>
<line x1="79.6" y1="617.50" x2="84.5" y2="617.50" stroke="#002151" stroke-width="1.11"/>
<text x="74.00" y="622.50" font-size="14.31" text-anchor="end" textLength="26.51" lengthAdjust="spacingAndGlyphs" fill="#112d58" >500</text>
<line x1="79.6" y1="679.50" x2="84.5" y2="679.50" stroke="#002151" stroke-width="1.11"/>
<text x="74.00" y="684.50" font-size="14.31" text-anchor="end" textLength="26.51" lengthAdjust="spacingAndGlyphs" fill="#112d58" >600</text>
<line x1="79.6" y1="732.50" x2="84.5" y2="732.50" stroke="#002151" stroke-width="1.11"/>
<text x="74.00" y="737.50" font-size="14.31" text-anchor="end" textLength="26.51" lengthAdjust="spacingAndGlyphs" fill="#112d58" >700</text>
<line x1="79.6" y1="778.50" x2="84.5" y2="778.50" stroke="#002151" stroke-width="1.11"/>
<text x="74.00" y="783.50" font-size="14.31" text-anchor="end" textLength="26.51" lengthAdjust="spacingAndGlyphs" fill="#112d58" >800</text>
<line x1="79.6" y1="819.50" x2="84.5" y2="819.50" stroke="#002151" stroke-width="1.11"/>
<text x="74.00" y="824.50" font-size="14.31" text-anchor="end" textLength="26.51" lengthAdjust="spacingAndGlyphs" fill="#112d58" >900</text>
<line x1="79.6" y1="855.50" x2="84.5" y2="855.50" stroke="#002151" stroke-width="1.11"/>
<text x="74.00" y="860.50" font-size="14.31" text-anchor="end" textLength="35.35" lengthAdjust="spacingAndGlyphs" fill="#112d58" >1000</text>
<line x1="133.50" y1="871.5" x2="133.50" y2="876.4" stroke="#002151" stroke-width="1.11"/>
<text x="133.50" y="891.80" font-size="14.31" text-anchor="middle" textLength="29.31" lengthAdjust="spacingAndGlyphs" fill="#112d58" >−20</text>
<line x1="231.50" y1="871.5" x2="231.50" y2="876.4" stroke="#002151" stroke-width="1.11"/>
<text x="231.50" y="891.80" font-size="14.31" text-anchor="middle" textLength="29.31" lengthAdjust="spacingAndGlyphs" fill="#112d58" >−10</text>
<line x1="330.50" y1="871.5" x2="330.50" y2="876.4" stroke="#002151" stroke-width="1.11"/>
<text x="330.50" y="891.80" font-size="14.31" text-anchor="middle" textLength="8.84" lengthAdjust="spacingAndGlyphs" fill="#112d58" >0</text>
<line x1="428.50" y1="871.5" x2="428.50" y2="876.4" stroke="#002151" stroke-width="1.11"/>
<text x="428.50" y="891.80" font-size="14.31" text-anchor="middle" textLength="17.68" lengthAdjust="spacingAndGlyphs" fill="#112d58" >10</text>
<line x1="526.50" y1="871.5" x2="526.50" y2="876.4" stroke="#002151" stroke-width="1.11"/>
<text x="526.50" y="891.80" font-size="14.31" text-anchor="middle" textLength="17.68" lengthAdjust="spacingAndGlyphs" fill="#112d58" >20</text>
<line x1="624.50" y1="871.5" x2="624.50" y2="876.4" stroke="#002151" stroke-width="1.11"/>
<text x="624.50" y="891.80" font-size="14.31" text-anchor="middle" textLength="17.68" lengthAdjust="spacingAndGlyphs" fill="#112d58" >30</text>
<text x="354.20" y="912.10" font-size="14.31" text-anchor="middle" textLength="118.84" lengthAdjust="spacingAndGlyphs" fill="#112d58" >Temperature (℃)</text>
<text x="0.00" y="0.00" font-size="14.31" text-anchor="middle" textLength="148.50" lengthAdjust="spacingAndGlyphs" fill="#112d58" transform="translate(30.2,469.5) rotate(-90)">Isobaric Height (hPa)</text>
<text x="444.20" y="21.10" font-size="25.75" text-anchor="middle" textLength="887.69" lengthAdjust="spacingAndGlyphs" fill="#112d58" >Rapid City Airport, SD; Model Run 2026-04-05 12 UTC; WRF Domain 02</text>
<text x="354.20" y="56.10" font-size="21.45" text-anchor="middle" textLength="439.14" lengthAdjust="spacingAndGlyphs" fill="#112d58" >2026-04-06 08 UTC  (2026-04-06 02 MDT)</text>
<text x="191.80" y="85.90" font-size="14.31" text-anchor="end" textLength="80.19" lengthAdjust="spacingAndGlyphs" fill="#112d58" >LCL Height:</text>
<text x="197.60" y="85.90" font-size="14.31" text-anchor="start" textLength="66.55" lengthAdjust="spacingAndGlyphs" fill="#112d58" >1146.0 m</text>
<text x="191.80" y="103.87" font-size="14.31" text-anchor="end" textLength="80.44" lengthAdjust="spacingAndGlyphs" fill="#112d58" >LFC Height:</text>
<text x="197.60" y="103.87" font-size="14.31" text-anchor="start" textLength="44.07" lengthAdjust="spacingAndGlyphs" fill="#112d58" >nan m</text>
<text x="191.80" y="121.84" font-size="14.31" text-anchor="end" textLength="41.37" lengthAdjust="spacingAndGlyphs" fill="#112d58" >MLLR:</text>
<text x="197.60" y="121.84" font-size="14.31" text-anchor="start" textLength="35.61" lengthAdjust="spacingAndGlyphs" fill="#112d58" >7.3 K</text>
<text x="191.80" y="139.81" font-size="14.31" text-anchor="end" textLength="59.14" lengthAdjust="spacingAndGlyphs" fill="#112d58" >SBCAPE:</text>
<text x="197.60" y="139.81" font-size="14.31" text-anchor="start" textLength="52.14" lengthAdjust="spacingAndGlyphs" fill="#112d58" >0.0 J/kg</text>
<text x="191.80" y="157.78" font-size="14.31" text-anchor="end" textLength="46.97" lengthAdjust="spacingAndGlyphs" fill="#112d58" >SBCIN:</text>
<text x="197.60" y="157.78" font-size="14.31" text-anchor="start" textLength="52.14" lengthAdjust="spacingAndGlyphs" fill="#112d58" >0.0 J/kg</text>
<text x="191.80" y="175.75" font-size="14.31" text-anchor="end" textLength="60.76" lengthAdjust="spacingAndGlyphs" fill="#112d58" >MLCAPE:</text>
<text x="197.60" y="175.75" font-size="14.31" text-anchor="start" textLength="52.14" lengthAdjust="spacingAndGlyphs" fill="#112d58" >0.0 J/kg</text>
<text x="191.80" y="193.72" font-size="14.31" text-anchor="end" textLength="48.59" lengthAdjust="spacingAndGlyphs" fill="#112d58" >MLCIN:</text>
<text x="197.60" y="193.72" font-size="14.31" text-anchor="start" textLength="52.14" lengthAdjust="spacingAndGlyphs" fill="#112d58" >0.0 J/kg</text>
<text x="191.80" y="211.69" font-size="14.31" text-anchor="end" textLength="63.19" lengthAdjust="spacingAndGlyphs" fill="#112d58" >MUCAPE:</text>
<text x="197.60" y="211.69" font-size="14.31" text-anchor="start" textLength="60.98" lengthAdjust="spacingAndGlyphs" fill="#112d58" >11.7 J/kg</text>
<text x="191.80" y="229.66" font-size="14.31" text-anchor="end" textLength="98.16" lengthAdjust="spacingAndGlyphs" fill="#112d58" >Shear 0-1 km:</text>
<text x="197.60" y="229.66" font-size="14.31" text-anchor="start" textLength="51.95" lengthAdjust="spacingAndGlyphs" fill="#112d58" >2.8 m/s</text>
<text x="191.80" y="247.63" font-size="14.31" text-anchor="end" textLength="98.16" lengthAdjust="spacingAndGlyphs" fill="#112d58" >Shear 0-6 km:</text>
<text x="197.60" y="247.63" font-size="14.31" text-anchor="start" textLength="60.79" lengthAdjust="spacingAndGlyphs" fill="#112d58" >30.9 m/s</text>
<text x="191.80" y="265.60" font-size="14.31" text-anchor="end" textLength="86.69" lengthAdjust="spacingAndGlyphs" fill="#112d58" >SRH 0-1 km:</text>
<text x="197.60" y="265.60" font-size="14.31" text-anchor="start" textLength="76.94" lengthAdjust="spacingAndGlyphs" fill="#112d58" >-43.8 m²/s²</text>
<text x="191.80" y="283.57" font-size="14.31" text-anchor="end" textLength="86.69" lengthAdjust="spacingAndGlyphs" fill="#112d58" >SRH 0-3 km:</text>
<text x="197.60" y="283.57" font-size="14.31" text-anchor="start" textLength="76.94" lengthAdjust="spacingAndGlyphs" fill="#112d58" >-97.6 m²/s²</text>
<text x="384.50" y="834.60" font-size="14.31" text-anchor="middle" textLength="65.46" lengthAdjust="spacingAndGlyphs" fill="#112d58" >Mon-MDT</text>
<polygon points="624.90,67.40 591.54,56.81 591.60,42.15 591.54,56.81 595.71,58.14 595.77,43.47 595.71,58.14 599.88,59.46 599.94,44.79 599.88,59.46 604.05,60.78 604.11,46.12 604.05,60.78 608.22,62.11 608.25,54.77 608.22,62.11" fill="#002151" stroke="#002151" stroke-width="2.0" stroke-linejoin="round"/>
<polygon points="624.90,120.70 592.97,106.37 602.69,95.39 600.95,109.96" fill="#002151" stroke="#002151" stroke-width="2.0" stroke-linejoin="round"/>
<polygon points="624.50,173.80 592.41,159.82 602.02,148.73 600.44,163.31 604.45,165.06 606.03,150.48 604.45,165.06" fill="#002151" stroke="#002151" stroke-width="2.0" stroke-linejoin="round"/>
<polygon points="624.50,227.20 592.20,213.73 601.62,202.49 600.27,217.10 604.31,218.78 605.66,204.18 604.31,218.78 608.35,220.47 609.02,213.16 608.35,220.47" fill="#002151" stroke="#002151" stroke-width="2.0" stroke-linejoin="round"/>
<polygon points="624.50,280.70 593.44,264.57 603.78,254.16 601.21,268.60 605.09,270.62 607.66,256.18 605.09,270.62 608.97,272.63 611.54,258.19 608.97,272.63" fill="#002151" stroke="#002151" stroke-width="2.0" stroke-linejoin="round"/>
<polygon points="624.50,333.10 596.23,312.46 608.02,303.73 603.30,317.62 606.83,320.20 611.56,306.31 606.83,320.20 610.37,322.78 615.09,308.89 610.37,322.78 613.90,325.36 616.26,318.42 613.90,325.36" fill="#002151" stroke="#002151" stroke-width="2.0" stroke-linejoin="round"/>
<polygon points="624.50,381.70 596.66,360.49 608.62,352.00 603.62,365.79 607.10,368.44 612.10,354.66 607.10,368.44 610.58,371.09 615.58,357.31 610.58,371.09 614.06,373.75 619.06,359.96 614.06,373.75" fill="#002151" stroke="#002151" stroke-width="2.0" stroke-linejoin="round"/>
<polygon points="624.50,426.30 596.06,405.90 607.78,397.07 603.17,411.00 606.73,413.55 611.33,399.62 606.73,413.55 610.28,416.10 614.89,402.17 610.28,416.10 613.84,418.65 616.14,411.69 613.84,418.65" fill="#002151" stroke="#002151" stroke-width="2.0" stroke-linejoin="round"/>
<polygon points="624.50,465.30 595.12,446.29 606.39,436.91 602.46,451.04 606.13,453.42 610.07,439.29 606.13,453.42 609.81,455.79 613.74,441.66 609.81,455.79" fill="#002151" stroke="#002151" stroke-width="2.0" stroke-linejoin="round"/>
<polygon points="624.50,500.40 595.01,481.55 606.24,472.11 602.38,486.26 606.07,488.62 609.92,474.47 606.07,488.62 609.75,490.98 611.68,483.90 609.75,490.98" fill="#002151" stroke="#002151" stroke-width="2.0" stroke-linejoin="round"/>
<polygon points="624.50,531.80 594.65,513.52 605.69,503.87 602.11,518.09 605.84,520.38 609.42,506.15 605.84,520.38" fill="#002151" stroke="#002151" stroke-width="2.0" stroke-linejoin="round"/>
<polygon points="624.50,560.30 594.17,542.84 604.95,532.89 601.75,547.20 605.54,549.39 607.14,542.23 605.54,549.39" fill="#002151" stroke="#002151" stroke-width="2.0" stroke-linejoin="round"/>
<polygon points="624.50,586.30 594.17,568.84 604.95,558.89 601.75,573.20" fill="#002151" stroke="#002151" stroke-width="2.0" stroke-linejoin="round"/>
<polygon points="624.50,609.30 593.85,592.40 596.78,578.03 593.85,592.40 597.68,594.51 600.61,580.14 597.68,594.51 601.51,596.62 604.44,582.25 601.51,596.62 605.34,598.74 608.27,584.36 605.34,598.74 609.18,600.85 610.64,593.66 609.18,600.85" fill="#002151" stroke="#002151" stroke-width="2.0" stroke-linejoin="round"/>
<polygon points="624.50,648.80 592.17,635.40 593.48,620.79 592.17,635.40 596.21,637.08 597.52,622.47 596.21,637.08 600.25,638.75 601.57,624.14 600.25,638.75 604.29,640.43 604.95,633.12 604.29,640.43" fill="#002151" stroke="#002151" stroke-width="2.0" stroke-linejoin="round"/>
<polygon points="624.50,682.20 590.31,674.70 589.04,660.09 590.31,674.70 594.59,675.64 593.31,661.03 594.59,675.64 598.86,676.58 598.22,669.27 598.86,676.58" fill="#002151" stroke="#002151" stroke-width="2.0" stroke-linejoin="round"/>
<polygon points="624.50,709.40 590.19,702.48 588.67,687.89 590.19,702.48 594.48,703.34 592.96,688.75 594.48,703.34 598.77,704.21 598.01,696.91 598.77,704.21" fill="#002151" stroke="#002151" stroke-width="2.0" stroke-linejoin="round"/>
<polygon points="624.50,732.30 589.85,737.24 583.54,723.99 589.85,737.24 594.18,736.62 587.88,723.38 594.18,736.62" fill="#002151" stroke="#002151" stroke-width="2.0" stroke-linejoin="round"/>
<polygon points="624.50,751.20 592.49,765.35 582.83,754.31 592.49,765.35 596.49,763.58 591.66,758.06 596.49,763.58" fill="#002151" stroke="#002151" stroke-width="2.0" stroke-linejoin="round"/>
<polygon points="624.50,766.50 609.01,797.89 594.52,795.62 609.01,797.89" fill="#002151" stroke="#002151" stroke-width="2.0" stroke-linejoin="round"/>
<polygon points="624.50,779.00 626.33,813.95 625.99,807.40 619.11,809.95 625.99,807.40" fill="#002151" stroke="#002151" stroke-width="2.0" stroke-linejoin="round"/>
<polygon points="624.50,790.60 633.56,824.41 621.17,832.26 633.56,824.41" fill="#002151" stroke="#002151" stroke-width="2.0" stroke-linejoin="round"/>
<polygon points="624.50,799.50 643.05,829.18 633.49,840.31 643.05,829.18" fill="#002151" stroke="#002151" stroke-width="2.0" stroke-linejoin="round"/>
<polygon points="624.50,807.50 649.68,831.81 643.10,844.92 649.68,831.81" fill="#002151" stroke="#002151" stroke-width="2.0" stroke-linejoin="round"/>
<polygon points="624.50,810.90 650.51,834.32 644.39,847.65 650.51,834.32" fill="#002151" stroke="#002151" stroke-width="2.0" stroke-linejoin="round"/>
<polygon points="624.50,814.80 653.52,834.37 649.31,848.42 653.52,834.37 649.89,831.93 647.79,838.95 649.89,831.93" fill="#002151" stroke="#002151" stroke-width="2.0" stroke-linejoin="round"/>
<polygon points="624.50,819.30 653.17,839.38 648.72,853.35 653.17,839.38" fill="#002151" stroke="#002151" stroke-width="2.0" stroke-linejoin="round"/>
<polygon points="624.50,824.50 653.17,844.58 647.79,840.81 645.57,847.80 647.79,840.81" fill="#002151" stroke="#002151" stroke-width="2.0" stroke-linejoin="round"/>
<line x1="84.5" y1="64.5" x2="624.5" y2="64.5" stroke="#ffffff" stroke-width="1.2"/>
<circle cx="384.5" cy="871.2" r="22" fill="#002151" stroke="#bbbbbb" stroke-width="0.6"/>
<polyline points="384.3,849.8 384.3,871.4 396.9,864.2" fill="none" stroke="#ffffff" stroke-width="1.2"/>
<defs><clipPath id="hod"><rect x="710.4" y="82.4" width="188.20000000000005" height="188.79999999999998"/></clipPath></defs>
<g clip-path="url(#hod)">
<ellipse cx="804.50" cy="176.80" rx="23.53" ry="23.60" fill="none" stroke="#808080" stroke-width="1.39" stroke-dasharray="5.14 2.22"/>
<ellipse cx="804.50" cy="176.80" rx="47.05" ry="47.20" fill="none" stroke="#808080" stroke-width="1.39" stroke-dasharray="5.14 2.22"/>
<ellipse cx="804.50" cy="176.80" rx="70.58" ry="70.80" fill="none" stroke="#808080" stroke-width="1.39" stroke-dasharray="5.14 2.22"/>
<ellipse cx="804.50" cy="176.80" rx="94.10" ry="94.40" fill="none" stroke="#808080" stroke-width="1.39" stroke-dasharray="5.14 2.22"/>
<ellipse cx="804.50" cy="176.80" rx="117.63" ry="118.00" fill="none" stroke="#808080" stroke-width="1.39" stroke-dasharray="5.14 2.22"/>
<ellipse cx="804.50" cy="176.80" rx="141.15" ry="141.60" fill="none" stroke="#808080" stroke-width="1.39" stroke-dasharray="5.14 2.22"/>
<line x1="710.4" y1="176.80" x2="898.6" y2="176.80" stroke="#808080" stroke-width="2.08" stroke-dasharray="7.7 3.33"/>
<line x1="804.50" y1="82.4" x2="804.50" y2="271.2" stroke="#808080" stroke-width="2.08" stroke-dasharray="7.7 3.33"/>
<line x1="796.70" y1="171.80" x2="795.53" y2="170.98" stroke="#000080" stroke-width="4.6" stroke-linecap="square"/>
<line x1="795.53" y1="170.98" x2="794.35" y2="170.15" stroke="#000084" stroke-width="4.6" stroke-linecap="square"/>
<line x1="794.35" y1="170.15" x2="793.17" y2="169.32" stroke="#00008d" stroke-width="4.6" stroke-linecap="square"/>
<line x1="793.17" y1="169.32" x2="792.00" y2="168.50" stroke="#000092" stroke-width="4.6" stroke-linecap="square"/>
<line x1="792.00" y1="168.50" x2="790.95" y2="167.50" stroke="#000096" stroke-width="4.6" stroke-linecap="square"/>
<line x1="790.95" y1="167.50" x2="789.90" y2="166.50" stroke="#00009f" stroke-width="4.6" stroke-linecap="square"/>
<line x1="789.90" y1="166.50" x2="788.85" y2="165.50" stroke="#0000a4" stroke-width="4.6" stroke-linecap="square"/>
<line x1="788.85" y1="165.50" x2="787.80" y2="164.50" stroke="#0000a8" stroke-width="4.6" stroke-linecap="square"/>
<line x1="787.80" y1="164.50" x2="788.42" y2="163.70" stroke="#0000ad" stroke-width="4.6" stroke-linecap="square"/>
<line x1="788.42" y1="163.70" x2="789.05" y2="162.90" stroke="#0000b6" stroke-width="4.6" stroke-linecap="square"/>
<line x1="789.05" y1="162.90" x2="789.67" y2="162.10" stroke="#0000bb" stroke-width="4.6" stroke-linecap="square"/>
<line x1="789.67" y1="162.10" x2="790.30" y2="161.30" stroke="#0000bf" stroke-width="4.6" stroke-linecap="square"/>
<line x1="790.30" y1="161.30" x2="791.90" y2="161.95" stroke="#0000c8" stroke-width="4.6" stroke-linecap="square"/>
<line x1="791.90" y1="161.95" x2="793.50" y2="162.60" stroke="#0000d1" stroke-width="4.6" stroke-linecap="square"/>
<line x1="793.50" y1="162.60" x2="795.10" y2="163.25" stroke="#0000da" stroke-width="4.6" stroke-linecap="square"/>
<line x1="795.10" y1="163.25" x2="796.70" y2="163.90" stroke="#0000e3" stroke-width="4.6" stroke-linecap="square"/>
<line x1="796.70" y1="163.90" x2="798.28" y2="165.00" stroke="#0000ed" stroke-width="4.6" stroke-linecap="square"/>
<line x1="798.28" y1="165.00" x2="799.85" y2="166.10" stroke="#0000f1" stroke-width="4.6" stroke-linecap="square"/>
<line x1="799.85" y1="166.10" x2="801.42" y2="167.20" stroke="#0000fa" stroke-width="4.6" stroke-linecap="square"/>
<line x1="801.42" y1="167.20" x2="803.00" y2="168.30" stroke="#0000ff" stroke-width="4.6" stroke-linecap="square"/>
<line x1="803.00" y1="168.30" x2="804.58" y2="167.50" stroke="#0000ff" stroke-width="4.6" stroke-linecap="square"/>
<line x1="804.58" y1="167.50" x2="806.15" y2="166.70" stroke="#0000ff" stroke-width="4.6" stroke-linecap="square"/>
<line x1="806.15" y1="166.70" x2="807.72" y2="165.90" stroke="#0004ff" stroke-width="4.6" stroke-linecap="square"/>
<line x1="807.72" y1="165.90" x2="809.30" y2="165.10" stroke="#000cff" stroke-width="4.6" stroke-linecap="square"/>
<line x1="809.30" y1="165.10" x2="811.20" y2="165.90" stroke="#0010ff" stroke-width="4.6" stroke-linecap="square"/>
<line x1="811.20" y1="165.90" x2="813.10" y2="166.70" stroke="#0014ff" stroke-width="4.6" stroke-linecap="square"/>
<line x1="813.10" y1="166.70" x2="815.00" y2="167.50" stroke="#001cff" stroke-width="4.6" stroke-linecap="square"/>
<line x1="815.00" y1="167.50" x2="816.90" y2="168.30" stroke="#0020ff" stroke-width="4.6" stroke-linecap="square"/>
<line x1="816.90" y1="168.30" x2="818.48" y2="168.45" stroke="#0024ff" stroke-width="4.6" stroke-linecap="square"/>
<line x1="818.48" y1="168.45" x2="820.05" y2="168.60" stroke="#0028ff" stroke-width="4.6" stroke-linecap="square"/>
<line x1="820.05" y1="168.60" x2="821.62" y2="168.75" stroke="#0030ff" stroke-width="4.6" stroke-linecap="square"/>
<line x1="821.62" y1="168.75" x2="823.20" y2="168.90" stroke="#0034ff" stroke-width="4.6" stroke-linecap="square"/>
<line x1="823.20" y1="168.90" x2="824.48" y2="169.85" stroke="#0038ff" stroke-width="4.6" stroke-linecap="square"/>
<line x1="824.48" y1="169.85" x2="825.75" y2="170.80" stroke="#0040ff" stroke-width="4.6" stroke-linecap="square"/>
<line x1="825.75" y1="170.80" x2="827.02" y2="171.75" stroke="#0044ff" stroke-width="4.6" stroke-linecap="square"/>
<line x1="827.02" y1="171.75" x2="828.30" y2="172.70" stroke="#0048ff" stroke-width="4.6" stroke-linecap="square"/>
<line x1="828.30" y1="172.70" x2="829.10" y2="174.30" stroke="#004cff" stroke-width="4.6" stroke-linecap="square"/>
<line x1="829.10" y1="174.30" x2="829.90" y2="175.90" stroke="#0054ff" stroke-width="4.6" stroke-linecap="square"/>
<line x1="829.90" y1="175.90" x2="830.70" y2="177.50" stroke="#0058ff" stroke-width="4.6" stroke-linecap="square"/>
<line x1="830.70" y1="177.50" x2="831.50" y2="179.10" stroke="#005cff" stroke-width="4.6" stroke-linecap="square"/>
<line x1="831.50" y1="179.10" x2="831.98" y2="180.03" stroke="#0060ff" stroke-width="4.6" stroke-linecap="square"/>
<line x1="831.98" y1="180.03" x2="832.45" y2="180.95" stroke="#0068ff" stroke-width="4.6" stroke-linecap="square"/>
<line x1="832.45" y1="180.95" x2="832.92" y2="181.88" stroke="#006cff" stroke-width="4.6" stroke-linecap="square"/>
<line x1="832.92" y1="181.88" x2="833.40" y2="182.80" stroke="#0070ff" stroke-width="4.6" stroke-linecap="square"/>
<line x1="833.40" y1="182.80" x2="834.48" y2="183.38" stroke="#0078ff" stroke-width="4.6" stroke-linecap="square"/>
<line x1="834.48" y1="183.38" x2="835.55" y2="183.95" stroke="#0084ff" stroke-width="4.6" stroke-linecap="square"/>
<line x1="835.55" y1="183.95" x2="836.62" y2="184.53" stroke="#008cff" stroke-width="4.6" stroke-linecap="square"/>
<line x1="836.62" y1="184.53" x2="837.70" y2="185.10" stroke="#0098ff" stroke-width="4.6" stroke-linecap="square"/>
<line x1="837.70" y1="185.10" x2="838.65" y2="186.55" stroke="#00a4ff" stroke-width="4.6" stroke-linecap="square"/>
<line x1="838.65" y1="186.55" x2="839.60" y2="188.00" stroke="#00b4ff" stroke-width="4.6" stroke-linecap="square"/>
<line x1="839.60" y1="188.00" x2="840.55" y2="189.45" stroke="#00c4ff" stroke-width="4.6" stroke-linecap="square"/>
<line x1="840.55" y1="189.45" x2="841.50" y2="190.90" stroke="#00d4ff" stroke-width="4.6" stroke-linecap="square"/>
<line x1="841.50" y1="190.90" x2="842.30" y2="192.65" stroke="#00e0fb" stroke-width="4.6" stroke-linecap="square"/>
<line x1="842.30" y1="192.65" x2="843.10" y2="194.40" stroke="#09f0ee" stroke-width="4.6" stroke-linecap="square"/>
<line x1="843.10" y1="194.40" x2="843.90" y2="196.15" stroke="#16ffe1" stroke-width="4.6" stroke-linecap="square"/>
<line x1="843.90" y1="196.15" x2="844.70" y2="197.90" stroke="#23ffd4" stroke-width="4.6" stroke-linecap="square"/>
<line x1="844.70" y1="197.90" x2="846.33" y2="199.35" stroke="#30ffc7" stroke-width="4.6" stroke-linecap="square"/>
<line x1="846.33" y1="199.35" x2="847.95" y2="200.80" stroke="#40ffb7" stroke-width="4.6" stroke-linecap="square"/>
<line x1="847.95" y1="200.80" x2="849.58" y2="202.25" stroke="#4dffaa" stroke-width="4.6" stroke-linecap="square"/>
<line x1="849.58" y1="202.25" x2="851.20" y2="203.70" stroke="#5dff9a" stroke-width="4.6" stroke-linecap="square"/>
<line x1="851.20" y1="203.70" x2="853.43" y2="205.30" stroke="#70ff87" stroke-width="4.6" stroke-linecap="square"/>
<line x1="853.43" y1="205.30" x2="855.65" y2="206.90" stroke="#8aff6d" stroke-width="4.6" stroke-linecap="square"/>
<line x1="855.65" y1="206.90" x2="857.88" y2="208.50" stroke="#a7ff50" stroke-width="4.6" stroke-linecap="square"/>
<line x1="857.88" y1="208.50" x2="860.10" y2="210.10" stroke="#c1ff36" stroke-width="4.6" stroke-linecap="square"/>
<line x1="860.10" y1="210.10" x2="861.55" y2="211.22" stroke="#d4ff23" stroke-width="4.6" stroke-linecap="square"/>
<line x1="861.55" y1="211.22" x2="863.00" y2="212.35" stroke="#deff19" stroke-width="4.6" stroke-linecap="square"/>
<line x1="863.00" y1="212.35" x2="864.45" y2="213.47" stroke="#e7ff0f" stroke-width="4.6" stroke-linecap="square"/>
<line x1="864.45" y1="213.47" x2="865.90" y2="214.60" stroke="#f1fc06" stroke-width="4.6" stroke-linecap="square"/>
<line x1="865.90" y1="214.60" x2="867.50" y2="216.05" stroke="#feed00" stroke-width="4.6" stroke-linecap="square"/>
<line x1="867.50" y1="216.05" x2="869.10" y2="217.50" stroke="#ffd700" stroke-width="4.6" stroke-linecap="square"/>
<line x1="869.10" y1="217.50" x2="870.70" y2="218.95" stroke="#ffc400" stroke-width="4.6" stroke-linecap="square"/>
<line x1="870.70" y1="218.95" x2="872.30" y2="220.40" stroke="#ffb200" stroke-width="4.6" stroke-linecap="square"/>
<line x1="872.30" y1="220.40" x2="873.57" y2="221.85" stroke="#ff9f00" stroke-width="4.6" stroke-linecap="square"/>
<line x1="873.57" y1="221.85" x2="874.85" y2="223.30" stroke="#ff8900" stroke-width="4.6" stroke-linecap="square"/>
<line x1="874.85" y1="223.30" x2="876.12" y2="224.75" stroke="#ff7300" stroke-width="4.6" stroke-linecap="square"/>
<line x1="876.12" y1="224.75" x2="877.40" y2="226.20" stroke="#ff5d00" stroke-width="4.6" stroke-linecap="square"/>
<line x1="877.40" y1="226.20" x2="877.98" y2="227.95" stroke="#ff4300" stroke-width="4.6" stroke-linecap="square"/>
<line x1="877.98" y1="227.95" x2="878.55" y2="229.70" stroke="#ff1e00" stroke-width="4.6" stroke-linecap="square"/>
<line x1="878.55" y1="229.70" x2="879.12" y2="231.45" stroke="#e40000" stroke-width="4.6" stroke-linecap="square"/>
<line x1="879.12" y1="231.45" x2="879.70" y2="233.20" stroke="#b60000" stroke-width="4.6" stroke-linecap="square"/>
</g>
<line x1="710.4" y1="82.4" x2="710.4" y2="271.2" stroke="#002151" stroke-width="1.11"/>
<line x1="710.4" y1="270.59999999999997" x2="898.6" y2="270.59999999999997" stroke="#002151" stroke-width="1.11"/>
<line x1="710.4" y1="270.09999999999997" x2="815" y2="270.09999999999997" stroke="#002151" stroke-width="2.8" stroke-linecap="round"/>
<line x1="705.5" y1="271.50" x2="710.4" y2="271.50" stroke="#002151" stroke-width="1.11"/>
<text x="699.20" y="276.70" font-size="14.31" text-anchor="end" textLength="29.31" lengthAdjust="spacingAndGlyphs" fill="#112d58" >−40</text>
<line x1="710.50" y1="270.59999999999997" x2="710.50" y2="275.5" stroke="#002151" stroke-width="1.11"/>
<text x="710.50" y="291.70" font-size="14.31" text-anchor="middle" textLength="29.31" lengthAdjust="spacingAndGlyphs" fill="#112d58" >−40</text>
<line x1="705.5" y1="224.50" x2="710.4" y2="224.50" stroke="#002151" stroke-width="1.11"/>
<text x="699.20" y="229.70" font-size="14.31" text-anchor="end" textLength="29.31" lengthAdjust="spacingAndGlyphs" fill="#112d58" >−20</text>
<line x1="757.50" y1="270.59999999999997" x2="757.50" y2="275.5" stroke="#002151" stroke-width="1.11"/>
<text x="757.50" y="291.70" font-size="14.31" text-anchor="middle" textLength="29.31" lengthAdjust="spacingAndGlyphs" fill="#112d58" >−20</text>
<line x1="705.5" y1="176.50" x2="710.4" y2="176.50" stroke="#002151" stroke-width="1.11"/>
<text x="699.20" y="181.70" font-size="14.31" text-anchor="end" textLength="8.84" lengthAdjust="spacingAndGlyphs" fill="#112d58" >0</text>
<line x1="804.50" y1="270.59999999999997" x2="804.50" y2="275.5" stroke="#002151" stroke-width="1.11"/>
<text x="804.50" y="291.70" font-size="14.31" text-anchor="middle" textLength="8.84" lengthAdjust="spacingAndGlyphs" fill="#112d58" >0</text>
<line x1="705.5" y1="129.50" x2="710.4" y2="129.50" stroke="#002151" stroke-width="1.11"/>
<text x="699.20" y="134.70" font-size="14.31" text-anchor="end" textLength="17.68" lengthAdjust="spacingAndGlyphs" fill="#112d58" >20</text>
<line x1="851.50" y1="270.59999999999997" x2="851.50" y2="275.5" stroke="#002151" stroke-width="1.11"/>
<text x="851.50" y="291.70" font-size="14.31" text-anchor="middle" textLength="17.68" lengthAdjust="spacingAndGlyphs" fill="#112d58" >20</text>
<line x1="705.5" y1="82.50" x2="710.4" y2="82.50" stroke="#002151" stroke-width="1.11"/>
<text x="699.20" y="87.70" font-size="14.31" text-anchor="end" textLength="17.68" lengthAdjust="spacingAndGlyphs" fill="#112d58" >40</text>
<line x1="898.50" y1="270.59999999999997" x2="898.50" y2="275.5" stroke="#002151" stroke-width="1.11"/>
<text x="898.50" y="291.70" font-size="14.31" text-anchor="middle" textLength="17.68" lengthAdjust="spacingAndGlyphs" fill="#112d58" >40</text>
<text x="773.8" y="306.4" font-size="14.3" textLength="61.2" lengthAdjust="spacingAndGlyphs" fill="#112d58">u (m s<tspan font-size="10" dy="-6">−1</tspan><tspan dy="6">)</tspan></text>
<text x="-31" y="0" font-size="14.3" textLength="62" lengthAdjust="spacingAndGlyphs" fill="#112d58" transform="translate(668,177.6) rotate(-90)">v (m s<tspan font-size="10" dy="-6">−1</tspan><tspan dy="6">)</tspan></text>
<defs><linearGradient id="jetg" x1="0" y1="0" x2="1" y2="0"><stop offset="0.000" stop-color="#000080"/><stop offset="0.025" stop-color="#00009b"/><stop offset="0.050" stop-color="#0000b6"/><stop offset="0.075" stop-color="#0000d6"/><stop offset="0.100" stop-color="#0000f1"/><stop offset="0.125" stop-color="#0000ff"/><stop offset="0.150" stop-color="#0018ff"/><stop offset="0.175" stop-color="#0030ff"/><stop offset="0.200" stop-color="#004cff"/><stop offset="0.225" stop-color="#0064ff"/><stop offset="0.250" stop-color="#0080ff"/><stop offset="0.275" stop-color="#0098ff"/><stop offset="0.300" stop-color="#00b0ff"/><stop offset="0.325" stop-color="#00ccff"/><stop offset="0.350" stop-color="#00e4f8"/><stop offset="0.375" stop-color="#16ffe1"/><stop offset="0.400" stop-color="#29ffce"/><stop offset="0.425" stop-color="#3cffba"/><stop offset="0.450" stop-color="#53ffa4"/><stop offset="0.475" stop-color="#66ff90"/><stop offset="0.500" stop-color="#7dff7a"/><stop offset="0.525" stop-color="#90ff66"/><stop offset="0.550" stop-color="#a4ff53"/><stop offset="0.575" stop-color="#baff3c"/><stop offset="0.600" stop-color="#ceff29"/><stop offset="0.625" stop-color="#e4ff13"/><stop offset="0.650" stop-color="#f8f500"/><stop offset="0.675" stop-color="#ffde00"/><stop offset="0.700" stop-color="#ffc400"/><stop offset="0.725" stop-color="#ffae00"/><stop offset="0.750" stop-color="#ff9400"/><stop offset="0.775" stop-color="#ff7e00"/><stop offset="0.800" stop-color="#ff6800"/><stop offset="0.825" stop-color="#ff4e00"/><stop offset="0.850" stop-color="#ff3800"/><stop offset="0.875" stop-color="#ff1e00"/><stop offset="0.900" stop-color="#f10800"/><stop offset="0.925" stop-color="#d60000"/><stop offset="0.950" stop-color="#b60000"/><stop offset="0.975" stop-color="#9b0000"/><stop offset="1.000" stop-color="#000084"/></linearGradient></defs>
<rect x="669.2" y="312.1" width="270.0" height="12.899999999999977" fill="url(#jetg)" stroke="#002151" stroke-width="1.11"/>
<line x1="669.50" y1="325.0" x2="669.50" y2="329.9" stroke="#002151" stroke-width="1.11"/>
<text x="669.50" y="346.20" font-size="14.31" text-anchor="middle" textLength="8.84" lengthAdjust="spacingAndGlyphs" fill="#112d58" >0</text>
<line x1="723.50" y1="325.0" x2="723.50" y2="329.9" stroke="#002151" stroke-width="1.11"/>
<text x="723.50" y="346.20" font-size="14.31" text-anchor="middle" textLength="8.84" lengthAdjust="spacingAndGlyphs" fill="#112d58" >2</text>
<line x1="777.50" y1="325.0" x2="777.50" y2="329.9" stroke="#002151" stroke-width="1.11"/>
<text x="777.50" y="346.20" font-size="14.31" text-anchor="middle" textLength="8.84" lengthAdjust="spacingAndGlyphs" fill="#112d58" >4</text>
<line x1="831.50" y1="325.0" x2="831.50" y2="329.9" stroke="#002151" stroke-width="1.11"/>
<text x="831.50" y="346.20" font-size="14.31" text-anchor="middle" textLength="8.84" lengthAdjust="spacingAndGlyphs" fill="#112d58" >6</text>
<line x1="885.50" y1="325.0" x2="885.50" y2="329.9" stroke="#002151" stroke-width="1.11"/>
<text x="885.50" y="346.20" font-size="14.31" text-anchor="middle" textLength="8.84" lengthAdjust="spacingAndGlyphs" fill="#112d58" >8</text>
<line x1="939.50" y1="325.0" x2="939.50" y2="329.9" stroke="#002151" stroke-width="1.11"/>
<text x="939.50" y="346.20" font-size="14.31" text-anchor="middle" textLength="17.68" lengthAdjust="spacingAndGlyphs" fill="#112d58" >10</text>
<text x="804.20" y="366.00" font-size="14.31" text-anchor="middle" textLength="114.92" lengthAdjust="spacingAndGlyphs" fill="#112d58" >Height (km AGL)</text>
</svg>
</body></html>
